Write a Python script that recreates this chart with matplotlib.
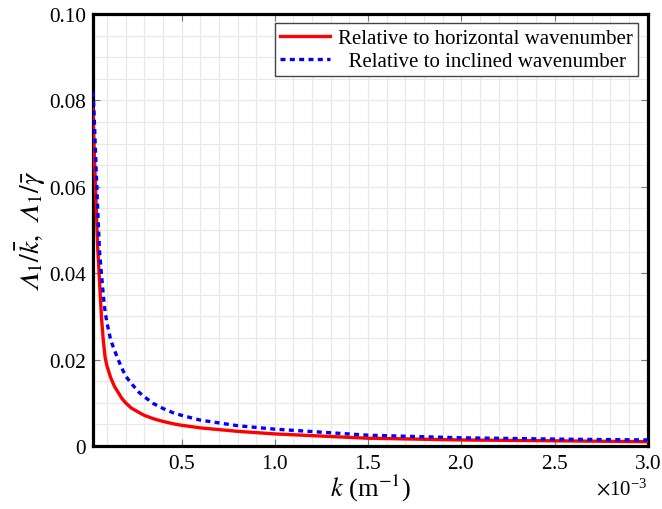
import numpy as np
import matplotlib

matplotlib.use('Agg')

import matplotlib.pyplot as plt
from matplotlib.ticker import MultipleLocator, FixedLocator, FuncFormatter, ScalarFormatter

plt.rcParams['font.family'] = "Liberation Serif"
plt.rcParams['mathtext.fontset'] = "stix"

# wavenumber k, in units of 1e-3 m^-1
k_horiz = [0.025, 0.03, 0.04, 0.05, 0.06, 0.07, 0.08, 0.09, 0.10, 0.12, 0.14,
           0.16, 0.18, 0.20, 0.23, 0.27, 0.30, 0.35, 0.40, 0.46, 0.50, 0.60,
           0.80, 1.0, 1.5, 2.0, 2.5, 3.0]
v_horiz = [0.078, 0.070, 0.058, 0.046, 0.038, 0.030, 0.0245, 0.0205, 0.0185,
           0.0158, 0.0138, 0.0124, 0.0110, 0.0100, 0.0088, 0.0078, 0.0071,
           0.0063, 0.0057, 0.0051, 0.0048, 0.0042, 0.0034, 0.0028, 0.0018,
           0.0014, 0.0012, 0.0010]

k_incl = [0.025, 0.03, 0.04, 0.05, 0.06, 0.07, 0.08, 0.09, 0.10, 0.12, 0.14,
          0.16, 0.18, 0.20, 0.23, 0.27, 0.30, 0.35, 0.40, 0.46, 0.50, 0.60,
          0.80, 1.0, 1.5, 2.0, 2.5, 3.0]
v_incl = [0.082, 0.078, 0.066, 0.055, 0.045, 0.040, 0.035, 0.031, 0.0285,
          0.0245, 0.0222, 0.0200, 0.0180, 0.0162, 0.0145, 0.0125, 0.0114,
          0.0098, 0.0087, 0.0076, 0.0071, 0.0060, 0.0047, 0.0039, 0.0025,
          0.0019, 0.0016, 0.0014]

labels = ["Relative to horizontal wavenumber", "  Relative to inclined wavenumber"]


def plot_lambda():
    fig = plt.figure(figsize=(6.62, 5.10), dpi=100)
    ax = fig.add_axes([0.1405, 0.1235, 0.838, 0.8471])

    kh = np.array(k_horiz) * 1e-3
    ki = np.array(k_incl) * 1e-3
    ax.plot(kh, v_horiz, color="#ff0000", lw=2.4, label=labels[0], zorder=3)
    ax.plot(ki, v_incl, color="#0000ff", lw=2.4, linestyle=(0, (1.5, 1.3)),
            dash_capstyle="butt", label=labels[1], zorder=4)

    ax.set_xlim(0.025e-3, 3.0e-3)
    ax.set_ylim(0, 0.10)

    ax.xaxis.set_major_locator(MultipleLocator(0.5e-3))
    ax.xaxis.set_minor_locator(MultipleLocator(0.1e-3))
    fmt = ScalarFormatter(useMathText=True)
    fmt.set_powerlimits((-2, 2))
    ax.xaxis.set_major_formatter(fmt)
    ax.yaxis.set_major_locator(FixedLocator([0, 0.02, 0.04, 0.06, 0.08, 0.10]))
    ax.yaxis.set_minor_locator(MultipleLocator(0.005))
    ax.yaxis.set_major_formatter(FuncFormatter(lambda v, p: "0" if v == 0 else "%.2f" % v))

    ax.grid(which="both", color="#e8e8e8", lw=0.9, zorder=0)
    ax.set_axisbelow(True)
    ax.tick_params(which="major", direction="in", length=5, width=0.8,
                   color="#777777", top=True, right=True, labelsize=15.3)
    ax.tick_params(axis="x", pad=6)
    ax.tick_params(axis="y", pad=5)
    ax.tick_params(which="minor", length=0)
    ax.xaxis.get_offset_text().set_fontsize(15)

    for s in ax.spines.values():
        s.set_linewidth(2.3)
        s.set_color("black")

    ax.set_xlabel(r"$k$ (m$^{-1}$)", fontsize=19, labelpad=-1)
    ax.set_ylabel("$\U0001D6EC_1/\\bar{k},\\ \U0001D6EC_1/\\bar{\\gamma}$",
                  fontsize=20, labelpad=1)

    leg = ax.legend(loc="upper right", fontsize=15, fancybox=False,
                    framealpha=1, edgecolor="#444444", handlelength=2.4,
                    borderpad=0.25, labelspacing=0.15, handletextpad=0.4,
                    borderaxespad=0.45)
    leg.get_frame().set_linewidth(1.0)

    fig.savefig("out.png", dpi=100)


plot_lambda()
